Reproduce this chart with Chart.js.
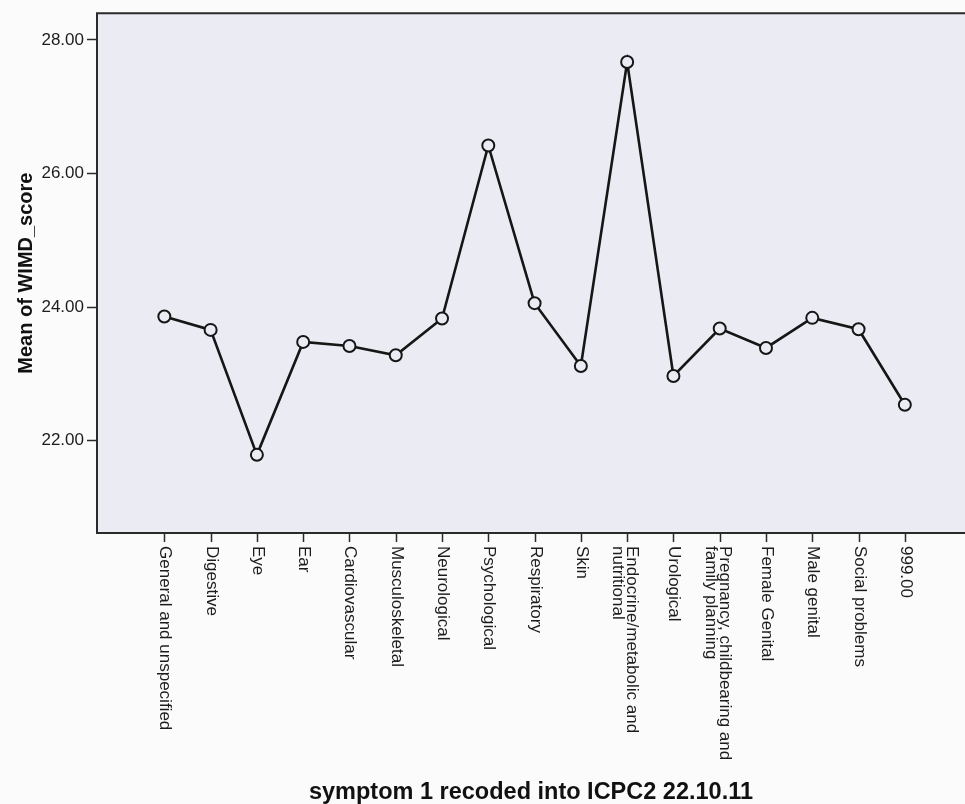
<!DOCTYPE html>
<html>
<head>
<meta charset="utf-8">
<script src="https://cdn.jsdelivr.net/npm/chart.js@4/dist/chart.umd.min.js"></script>
<style>
  html, body { margin: 0; padding: 0; background: #fbfbfb; }
  canvas { display: block; }
</style>
</head>
<body>
<canvas id="chart" width="965" height="804"></canvas>
<script>
// Symptom categories (ICPC2 chapters), in plotting order
const categories = [
  "General and unspecified", "Digestive", "Eye", "Ear", "Cardiovascular",
  "Musculoskeletal", "Neurological", "Psychological", "Respiratory", "Skin",
  ["Endocrine/metabolic and", "nutritional"], "Urological",
  ["Pregnancy, childbearing and", "family planning"], "Female Genital",
  "Male genital", "Social problems", "999.00"
];

// Mean WIMD score for each category
const meanScores = [
  23.86, 23.66, 21.79, 23.48, 23.42,
  23.28, 23.83, 26.42, 24.06, 23.12,
  27.67, 22.97, 23.68, 23.39,
  23.84, 23.67, 22.54
];

// Labelled values on the vertical axis
const yTickValues = [22, 24, 26, 28];

const FONT = '"Liberation Sans", Arial, Helvetica, sans-serif';
const INK = '#1c1c1c';
const PLOT_BG = '#ebebf3';

Chart.defaults.font.family = FONT;
Chart.defaults.color = INK;

// Plot panel: shaded background and frame
const panel = {
  id: 'panel',
  beforeDatasetsDraw(chart) {
    const { ctx, chartArea: a } = chart;
    ctx.save();
    ctx.fillStyle = PLOT_BG;
    ctx.fillRect(a.left, a.top, a.right - a.left, a.bottom - a.top);
    ctx.restore();
  },
  afterDatasetsDraw(chart) {
    const { ctx, chartArea: a } = chart;
    ctx.save();
    ctx.strokeStyle = '#2a2a2a';
    ctx.lineWidth = 2;
    ctx.beginPath();
    ctx.moveTo(a.right + 2, a.top);
    ctx.lineTo(a.left, a.top);
    ctx.lineTo(a.left, a.bottom);
    ctx.lineTo(a.right + 2, a.bottom);
    ctx.stroke();
    ctx.restore();
  }
};

// Category ticks with labels written top-to-bottom below the axis
const categoryLabels = {
  id: 'categoryLabels',
  afterDraw(chart) {
    const { ctx, chartArea: a } = chart;
    const xs = chart.scales.x;
    ctx.save();
    ctx.strokeStyle = '#2a2a2a';
    ctx.lineWidth = 1.5;
    ctx.fillStyle = INK;
    ctx.font = '17px ' + FONT;
    ctx.textAlign = 'left';
    ctx.textBaseline = 'middle';
    const lineH = 14;
    categories.forEach((label, i) => {
      const px = Math.round(xs.getPixelForValue(i)) + 0.5;
      ctx.beginPath();
      ctx.moveTo(px, a.bottom);
      ctx.lineTo(px, a.bottom + 9);
      ctx.stroke();
      const lines = Array.isArray(label) ? label : [label];
      ctx.save();
      ctx.translate(px, a.bottom + 13);
      ctx.rotate(Math.PI / 2);
      const shift = lines.length > 1 ? -4 : 0;
      lines.forEach((ln, j) => ctx.fillText(ln, 0, shift + j * lineH));
      ctx.restore();
    });
    ctx.restore();
  }
};

new Chart(document.getElementById('chart'), {
  type: 'line',
  data: {
    datasets: [{
      data: meanScores.map((v, i) => ({ x: i, y: v })),
      borderColor: '#161616',
      borderWidth: 2.6,
      tension: 0,
      pointRadius: 6,
      pointBorderWidth: 2,
      pointBorderColor: '#161616',
      pointBackgroundColor: PLOT_BG,
      fill: false
    }]
  },
  options: {
    responsive: false,
    animation: false,
    layout: { autoPadding: false, padding: { top: 13, left: 0, right: 0, bottom: 0 } },
    plugins: { legend: { display: false }, tooltip: { enabled: false } },
    scales: {
      x: {
        type: 'linear',
        min: -1.455,
        max: 17.3,
        ticks: { display: false },
        grid: { display: false },
        border: { display: false },
        title: {
          display: true,
          text: 'symptom 1 recoded into ICPC2 22.10.11',
          font: { size: 23.5, weight: 'bold', lineHeight: 1 },
          color: '#111',
          padding: { top: 0, bottom: 0 }
        },
        afterFit(scale) { scale.height = 271; }
      },
      y: {
        type: 'linear',
        min: 20.62,
        max: 28.40,
        afterBuildTicks(scale) {
          scale.ticks = yTickValues.map(v => ({ value: v }));
        },
        ticks: {
          font: { size: 17 },
          color: INK,
          padding: 3,
          callback: v => Number(v).toFixed(2)
        },
        grid: {
          drawOnChartArea: false,
          tickLength: 10,
          tickWidth: 1.5,
          tickColor: '#2a2a2a'
        },
        border: { display: false },
        title: {
          display: true,
          text: 'Mean of WIMD_score',
          font: { size: 20, weight: 'bold', lineHeight: 1.2 },
          color: '#111',
          padding: { top: 14, bottom: 0 }
        },
        afterFit(scale) { scale.width = 97; }
      }
    }
  },
  plugins: [panel, categoryLabels]
});
</script>
</body>
</html>
